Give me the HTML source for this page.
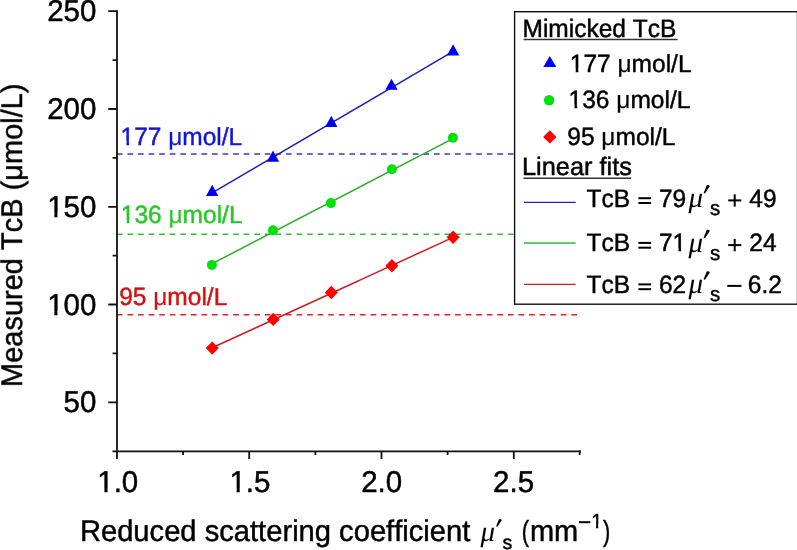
<!DOCTYPE html>
<html><head><meta charset="utf-8"><style>
html,body{margin:0;padding:0;background:#fff;width:797px;height:550px;overflow:hidden}
svg{display:block;will-change:transform}
text{font-family:"Liberation Sans",sans-serif;font-kerning:none;font-variant-ligatures:none;font-feature-settings:"kern" 0,"liga" 0;text-rendering:geometricPrecision}
.it{font-family:"Liberation Serif",serif;font-style:italic;stroke:none}
</style></head><body>
<svg width="797" height="550" viewBox="0 0 797 550">
<rect width="797" height="550" fill="#fff"/>
<defs><mask id="feet" maskUnits="userSpaceOnUse" x="0" y="0" width="797" height="550"><rect width="797" height="550" fill="#fff"/><g fill="#000"><rect x="48.63" y="213.25" width="5.70" height="5.20"/><rect x="57.48" y="213.25" width="5.47" height="5.20"/><rect x="48.63" y="311.02" width="5.70" height="5.20"/><rect x="57.48" y="311.02" width="5.47" height="5.20"/><rect x="98.69" y="488.60" width="5.70" height="5.20"/><rect x="107.55" y="488.60" width="5.47" height="5.20"/><rect x="230.89" y="488.60" width="5.70" height="5.20"/><rect x="239.75" y="488.60" width="5.47" height="5.20"/><rect x="591.92" y="524.68" width="4.03" height="4.52"/><rect x="598.27" y="524.68" width="3.87" height="4.52"/><rect x="121.57" y="141.33" width="4.82" height="4.87"/><rect x="129.10" y="141.33" width="4.63" height="4.87"/><rect x="121.87" y="219.83" width="4.82" height="4.87"/><rect x="129.40" y="219.83" width="4.63" height="4.87"/><rect x="570.87" y="68.93" width="4.82" height="4.87"/><rect x="578.40" y="68.93" width="4.63" height="4.87"/><rect x="569.67" y="105.03" width="4.82" height="4.87"/><rect x="577.20" y="105.03" width="4.63" height="4.87"/><rect x="673.59" y="248.03" width="4.82" height="4.87"/><rect x="681.13" y="248.03" width="4.63" height="4.87"/></g></mask></defs>
<g mask="url(#feet)">
<g stroke-width="1.5" stroke-dasharray="5.7 4.867" fill="none">
<line x1="116.9" y1="154" x2="580" y2="154" stroke="#3a3ac8"/>
<line x1="116.9" y1="234.3" x2="580" y2="234.3" stroke="#36bc36"/>
<line x1="116.9" y1="314.7" x2="580" y2="314.7" stroke="#e8202a"/>
</g>
<g stroke="#111" stroke-width="1.8" fill="none">
<line x1="117" y1="10.3" x2="117" y2="459"/>
<line x1="112.5" y1="451.3" x2="580.6" y2="451.3"/>
<path d="M108.3 11.2H117M108.3 109.0H117M108.3 206.8H117M108.3 304.5H117M108.3 402.3H117"/>
<path d="M112.6 60.1H117M112.6 157.9H117M112.6 255.6H117M112.6 353.4H117"/>
<path d="M249.2 451.3V459M381.5 451.3V459M513.8 451.3V459"/>
<path d="M183.1 451.3V455M315.4 451.3V455M447.6 451.3V455"/>
<path d="M579.7 450.4V455"/>
</g>
<g font-size="29.5" fill="#000" stroke="#000" stroke-width="0.45" text-anchor="end">
<text transform="translate(96.40 21.30) scale(1.0 1.02)">250</text>
<text transform="translate(96.40 119.08) scale(1.0 1.02)">200</text>
<text transform="translate(96.40 216.85) scale(1.0 1.02)">150</text>
<text transform="translate(96.40 314.62) scale(1.0 1.02)">100</text>
<text transform="translate(96.40 412.40) scale(1.0 1.02)">50</text>
</g>
<g font-size="29.5" fill="#000" stroke="#000" stroke-width="0.45" text-anchor="middle">
<text transform="translate(117.75 492.20) scale(1.0 1.02)">1.0</text>
<text transform="translate(249.95 492.20) scale(1.0 1.02)">1.5</text>
<text transform="translate(381.65 492.20) scale(1.0 1.02)">2.0</text>
<text transform="translate(513.55 492.20) scale(1.0 1.02)">2.5</text>
</g>
<g font-size="29" fill="#000" stroke="#000" stroke-width="0.45">
<text transform="translate(79.90 540.80) scale(1.005 1.03)">Reduced scattering coefficient</text>
<text transform="translate(480.50 540.80) scale(1.0 1.0)" class="it">μ</text>
<text transform="translate(502.40 548.50) scale(1.0 1.0)" font-size="19.5">s</text>
<text transform="translate(521.67 540.80) scale(0.75 1.0)">(</text>
<text transform="translate(529.90 540.80) scale(1.0 1.03)">mm</text>
<text transform="translate(591.20 527.60) scale(1.0 1.02)" font-size="20">1</text>
<text transform="translate(602.90 540.80) scale(0.75 1.0)">)</text>
</g>
<path d="M499.00 519.29Q500.45 518.58 501.90 520.01L497.38 526.80L496.10 526.33Z" fill="#000"/>
<rect x="579" y="521.2" width="11.3" height="2" fill="#000"/>
<text transform="translate(21.8 387.1) rotate(-90) scale(1 1.03)" font-size="29" fill="#000" stroke="#000" stroke-width="0.45">Measured TcB (μmol/L)</text>
<g font-size="24.5" stroke-width="0.45">
<text transform="translate(120.50 144.60) scale(1.0 1.02)" fill="#1414dc" stroke="#1414dc">177 </text><text transform="translate(168.18 144.60) scale(1.0 1.0)" fill="#1414dc" stroke="#1414dc" stroke-width="0.15">μ</text><text transform="translate(182.30 144.60) scale(1.0 1.0)" fill="#1414dc" stroke="#1414dc">mol/L</text>
<text transform="translate(120.80 223.10) scale(1.0 1.02)" fill="#26c826" stroke="#26c826">136 </text><text transform="translate(168.48 223.10) scale(1.0 1.0)" fill="#26c826" stroke="#26c826" stroke-width="0.15">μ</text><text transform="translate(182.60 223.10) scale(1.0 1.0)" fill="#26c826" stroke="#26c826">mol/L</text>
<text transform="translate(119.20 304.90) scale(1.0 1.02)" fill="#d41010" stroke="#d41010">95 </text><text transform="translate(153.26 304.90) scale(1.0 1.0)" fill="#d41010" stroke="#d41010" stroke-width="0.15">μ</text><text transform="translate(167.37 304.90) scale(1.0 1.0)" fill="#d41010" stroke="#d41010">mol/L</text>
</g>
<g stroke-width="1.5" fill="none">
<line x1="212.2" y1="192.9" x2="453.1" y2="51.4" stroke="#1e1eb4"/>
<line x1="211.9" y1="263.8" x2="452.9" y2="138.7" stroke="#2cac2c"/>
<line x1="212.2" y1="347.8" x2="453.1" y2="237.4" stroke="#c81c22"/>
</g>
<g fill="#0000fa">
<path d="M212.2 184.8l6.15 11.10h-12.30z"/>
<path d="M273.0 150.6l6.15 11.10h-12.30z"/>
<path d="M331.3 115.8l6.15 11.10h-12.30z"/>
<path d="M391.5 78.7l6.15 11.10h-12.30z"/>
<path d="M453.1 44.3l6.15 11.10h-12.30z"/>
</g>
<g fill="#02e00a">
<circle cx="211.9" cy="264.9" r="5"/>
<circle cx="273" cy="230.3" r="5"/>
<circle cx="330.9" cy="203.1" r="5"/>
<circle cx="391.9" cy="169.2" r="5"/>
<circle cx="452.9" cy="137.8" r="5"/>
</g>
<g fill="#ff0000">
<path d="M212.2 341.4l6.55 6.7 -6.55 6.7 -6.55 -6.7z"/>
<path d="M273.2 312.7l6.55 6.7 -6.55 6.7 -6.55 -6.7z"/>
<path d="M331.3 285.8l6.55 6.7 -6.55 6.7 -6.55 -6.7z"/>
<path d="M391.9 259.0l6.55 6.7 -6.55 6.7 -6.55 -6.7z"/>
<path d="M453.1 230.6l6.55 6.7 -6.55 6.7 -6.55 -6.7z"/>
</g>
<rect x="514.6" y="11.7" width="282.9" height="292.5" fill="#fff" stroke="#111" stroke-width="1.4"/>
<g font-size="24.5" fill="#000" stroke="#000" stroke-width="0.45">
<text transform="translate(522.50 36.70) scale(1.0 1.03)">Mimicked TcB</text>
<text transform="translate(569.80 72.20) scale(1.0 1.02)">177 </text><text transform="translate(617.48 72.20) scale(1.0 1.0)" stroke-width="0.15">μ</text><text transform="translate(631.60 72.20) scale(1.0 1.0)">mol/L</text>
<text transform="translate(568.60 108.30) scale(1.0 1.02)">136 </text><text transform="translate(616.28 108.30) scale(1.0 1.0)" stroke-width="0.15">μ</text><text transform="translate(630.40 108.30) scale(1.0 1.0)">mol/L</text>
<text transform="translate(567.30 145.00) scale(1.0 1.02)">95 </text><text transform="translate(601.36 145.00) scale(1.0 1.0)" stroke-width="0.15">μ</text><text transform="translate(615.47 145.00) scale(1.0 1.0)">mol/L</text>
<text transform="translate(522.00 175.20) scale(1.034 1.03)">Linear fits</text>
<text transform="translate(586.50 206.60) scale(1.0 1.03)">TcB</text>
<text transform="translate(658.90 206.60) scale(1.0 1.02)">79</text>
<text transform="translate(749.30 206.60) scale(1.0 1.02)">49</text>
<text transform="translate(688.40 207.00) scale(1.0 1.0)" font-size="29" class="it">μ</text>
<text transform="translate(710.00 215.20) scale(1.0 1.0)" font-size="20.5">s</text>
<text transform="translate(586.50 251.30) scale(1.0 1.03)">TcB</text>
<text transform="translate(658.90 251.30) scale(1.0 1.02)">71</text>
<text transform="translate(749.30 251.30) scale(1.0 1.02)">24</text>
<text transform="translate(688.40 251.70) scale(1.0 1.0)" font-size="29" class="it">μ</text>
<text transform="translate(710.00 259.90) scale(1.0 1.0)" font-size="20.5">s</text>
<text transform="translate(586.50 292.80) scale(1.0 1.03)">TcB</text>
<text transform="translate(658.90 292.80) scale(1.0 1.02)">62</text>
<text transform="translate(747.80 292.80) scale(1.0 1.02)">6.2</text>
<text transform="translate(688.40 293.20) scale(1.0 1.0)" font-size="29" class="it">μ</text>
<text transform="translate(710.00 301.40) scale(1.0 1.0)" font-size="20.5">s</text>
</g>
<rect x="638.4" y="197.2" width="12.7" height="2" fill="#000"/>
<rect x="638.4" y="202.0" width="12.7" height="2" fill="#000"/>
<rect x="728.2" y="199.4" width="13.1" height="2" fill="#000"/>
<rect x="733.7" y="194.3" width="2" height="12.3" fill="#000"/>
<path d="M706.75 185.33Q708.33 184.56 709.90 186.10L704.99 193.50L703.60 192.98Z" fill="#000"/>
<rect x="638.4" y="241.9" width="12.7" height="2" fill="#000"/>
<rect x="638.4" y="246.7" width="12.7" height="2" fill="#000"/>
<rect x="728.2" y="244.1" width="13.1" height="2" fill="#000"/>
<rect x="733.7" y="239.0" width="2" height="12.3" fill="#000"/>
<path d="M706.75 230.03Q708.33 229.26 709.90 230.80L704.99 238.20L703.60 237.68Z" fill="#000"/>
<rect x="638.4" y="283.4" width="12.7" height="2" fill="#000"/>
<rect x="638.4" y="288.2" width="12.7" height="2" fill="#000"/>
<rect x="727.3" y="284.9" width="14.1" height="2" fill="#000"/>
<path d="M706.75 271.53Q708.33 270.76 709.90 272.30L704.99 279.70L703.60 279.18Z" fill="#000"/>
<g stroke="#333" stroke-width="1.5">
<line x1="523.6" y1="39.5" x2="677.6" y2="39.5"/>
<line x1="523.5" y1="178.2" x2="631" y2="178.2"/>
</g>
<g stroke-width="1.35">
<line x1="524" y1="202.3" x2="575.7" y2="202.3" stroke="#2424c8"/>
<line x1="524" y1="243.0" x2="575.7" y2="243.0" stroke="#2cbc2c"/>
<line x1="524" y1="284.3" x2="575.7" y2="284.3" stroke="#cc2020"/>
</g>
<path d="M549.8 56l6.5 10.9h-13z" fill="#0000fa"/>
<circle cx="549.1" cy="100.2" r="5.2" fill="#02e00a"/>
<path d="M549.8 130.2l6.7 6.7-6.7 6.7-6.7-6.7z" fill="#ff0000"/>
</g>
</svg>
</body></html>
